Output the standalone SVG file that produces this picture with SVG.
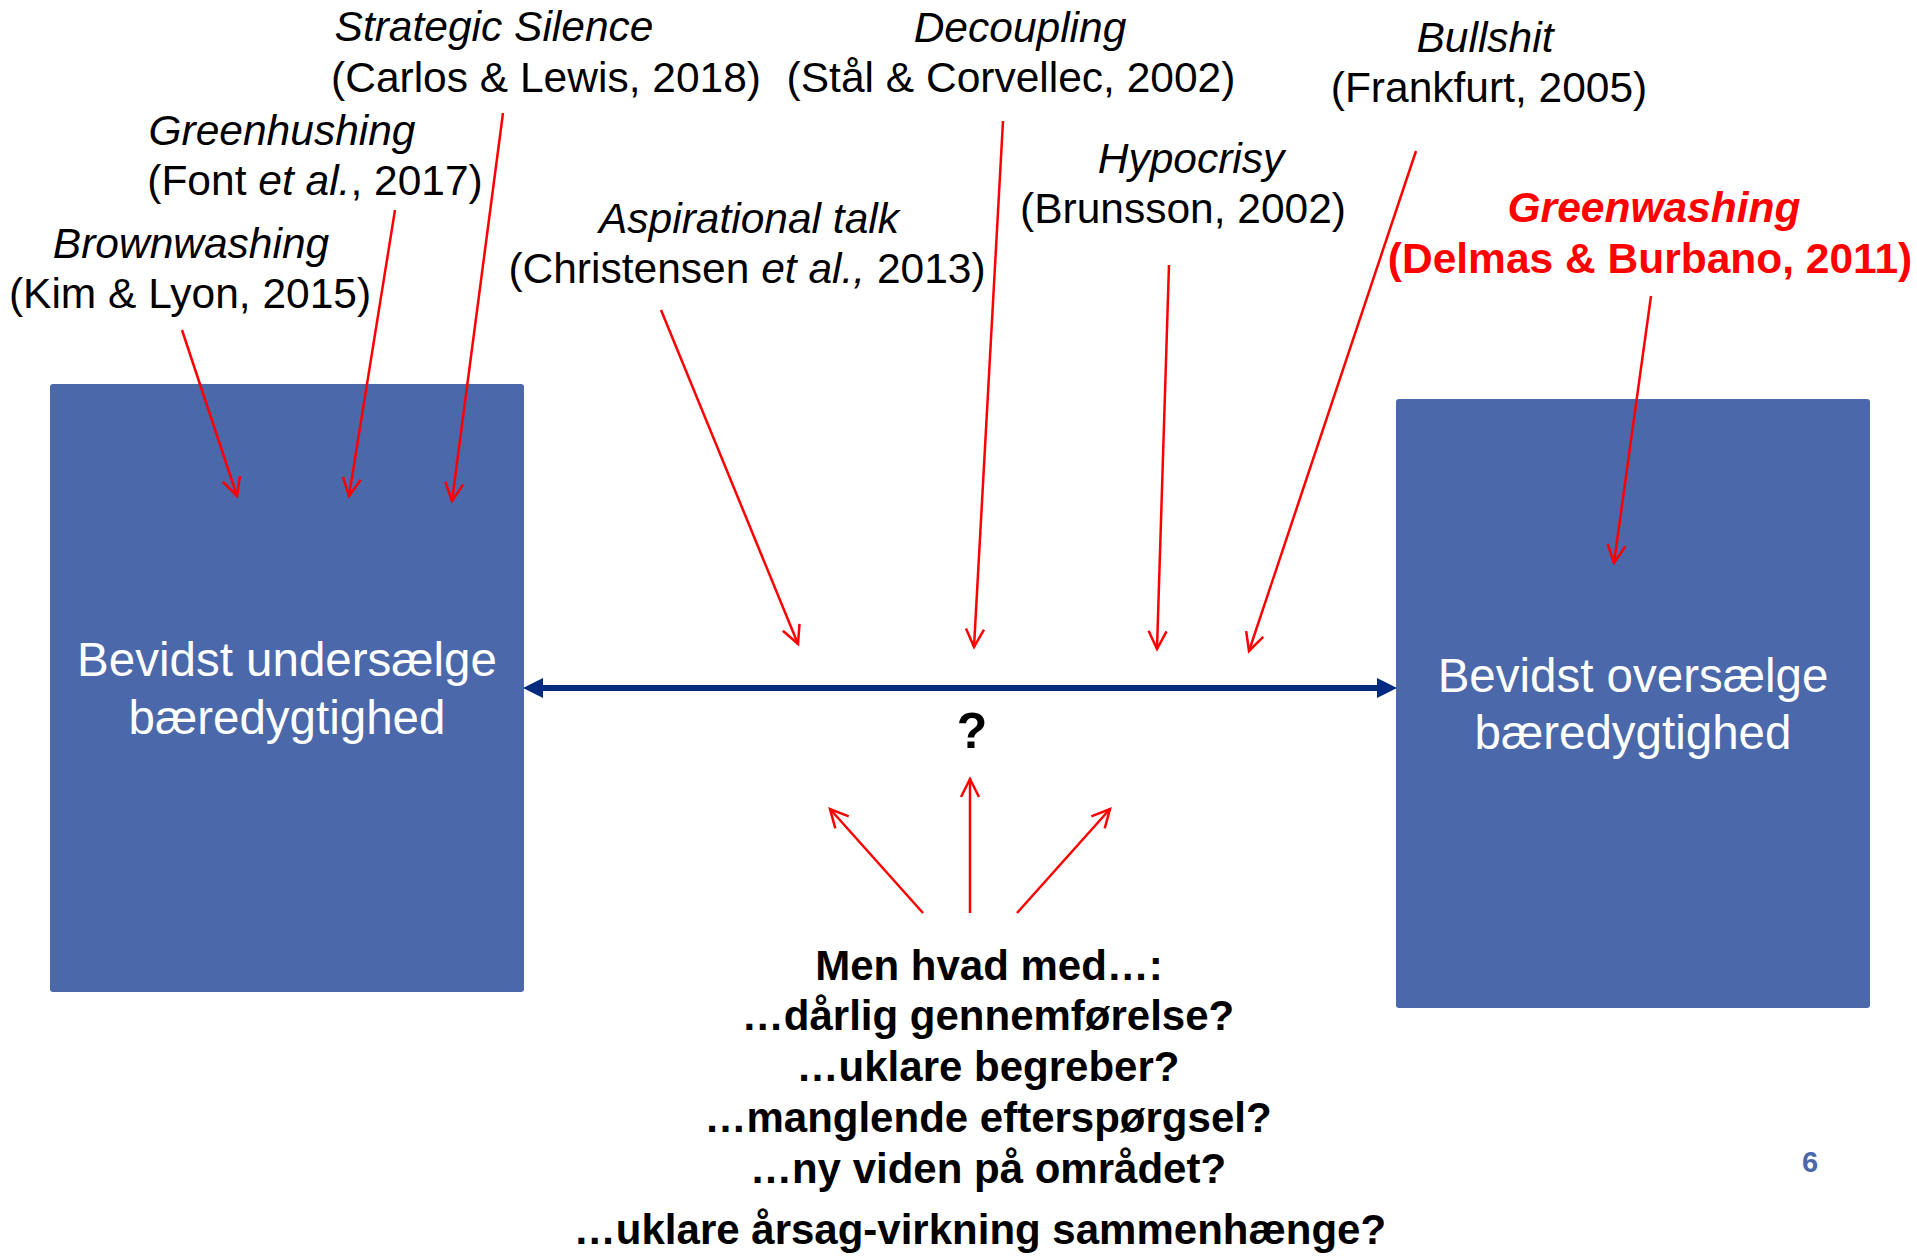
<svg xmlns="http://www.w3.org/2000/svg" width="1917" height="1257" viewBox="0 0 1917 1257">
<style>
text{font-family:"Liberation Sans",Arial,sans-serif;}
.lbl{font-size:42.5px;fill:#000;text-anchor:middle;}
.it{font-style:italic;}
.red{fill:#ff0000;font-weight:bold;}
.box{fill:#4a68aa;}
.boxt{font-size:47.5px;fill:#fff;text-anchor:middle;}
.q{font-size:42px;font-weight:bold;fill:#000;text-anchor:middle;}
.ra{stroke:#ff0000;stroke-width:2.5;fill:none;marker-end:url(#open);}
</style>
<defs>
<marker id="open" markerUnits="userSpaceOnUse" viewBox="-20 -12 24 24" refX="0" refY="0" markerWidth="24" markerHeight="24" orient="auto">
<path d="M-18,-9 L0,0 L-18,9" fill="none" stroke="#ff0000" stroke-width="2.5"/>
</marker>
</defs>
<rect width="1917" height="1257" fill="#fff"/>
<g id="node-left">
<rect class="box" x="50" y="384" width="474" height="608" rx="3"/>
<text class="boxt" x="287" y="676">Bevidst undersælge</text>
<text class="boxt" x="287" y="734">bæredygtighed</text>
</g>
<g id="node-right">
<rect class="box" x="1396" y="399" width="474" height="609" rx="3"/>
<text class="boxt" x="1633" y="692">Bevidst oversælge</text>
<text class="boxt" x="1633" y="749">bæredygtighed</text>
</g>
<g id="label-brownwashing">
<text class="lbl it" x="191" y="258">Brownwashing</text>
<text class="lbl" x="190" y="308">(Kim &amp; Lyon, 2015)</text>
</g>
<g id="label-greenhushing">
<text class="lbl it" x="282" y="145">Greenhushing</text>
<text class="lbl" x="315" y="195">(Font <tspan font-style="italic">et al.</tspan>, 2017)</text>
</g>
<g id="label-silence">
<text class="lbl it" x="494" y="41">Strategic Silence</text>
<text class="lbl" x="546" y="92">(Carlos &amp; Lewis, 2018)</text>
</g>
<g id="label-aspirational">
<text class="lbl it" x="749" y="233">Aspirational talk</text>
<text class="lbl" x="747" y="283">(Christensen <tspan font-style="italic">et al.,</tspan> 2013)</text>
</g>
<g id="label-decoupling">
<text class="lbl it" x="1020" y="42">Decoupling</text>
<text class="lbl" x="1011" y="92">(Stål &amp; Corvellec, 2002)</text>
</g>
<g id="label-hypocrisy">
<text class="lbl it" x="1191" y="173">Hypocrisy</text>
<text class="lbl" x="1183" y="223">(Brunsson, 2002)</text>
</g>
<g id="label-bullshit">
<text class="lbl it" x="1485" y="52">Bullshit</text>
<text class="lbl" x="1489" y="102">(Frankfurt, 2005)</text>
</g>
<g id="label-greenwashing">
<text class="lbl it red" x="1654" y="222">Greenwashing</text>
<text class="lbl red" x="1650" y="273">(Delmas &amp; Burbano, 2011)</text>
</g>
<g id="label-question">
<text x="972" y="748" font-size="50" font-weight="bold" text-anchor="middle" fill="#000">?</text>
</g>
<g id="label-questions">
<text class="q" x="989" y="980">Men hvad med…:</text>
<text class="q" x="988" y="1030">…dårlig gennemførelse?</text>
<text class="q" x="988" y="1081">…uklare begreber?</text>
<text class="q" x="988" y="1132">…manglende efterspørgsel?</text>
<text class="q" x="988" y="1183">…ny viden på området?</text>
<text class="q" x="980" y="1244">…uklare årsag-virkning sammenhænge?</text>
</g>
<g id="page-number">
<text x="1810" y="1172" font-size="29" font-weight="bold" text-anchor="middle" fill="#4a68aa">6</text>
</g>
<g id="connectors">
<line x1="541" y1="688" x2="1379" y2="688" stroke="#002b7f" stroke-width="6"/>
<polygon points="523,688 543,678 543,698" fill="#002b7f"/>
<polygon points="1397,688 1377,678 1377,698" fill="#002b7f"/>
<line class="ra" x1="182" y1="330" x2="237" y2="496"/>
<line class="ra" x1="395" y1="210" x2="349" y2="496"/>
<line class="ra" x1="503" y1="113" x2="452" y2="501"/>
<line class="ra" x1="661" y1="310" x2="798" y2="644"/>
<line class="ra" x1="1003" y1="121" x2="974" y2="647"/>
<line class="ra" x1="1169" y1="265" x2="1157" y2="649"/>
<line class="ra" x1="1416" y1="151" x2="1249" y2="651"/>
<line class="ra" x1="1651" y1="296" x2="1614" y2="563"/>
<line class="ra" x1="923" y1="913" x2="830" y2="809"/>
<line class="ra" x1="970" y1="913" x2="970" y2="779"/>
<line class="ra" x1="1017" y1="913" x2="1110" y2="809"/>
</g>
</svg>
